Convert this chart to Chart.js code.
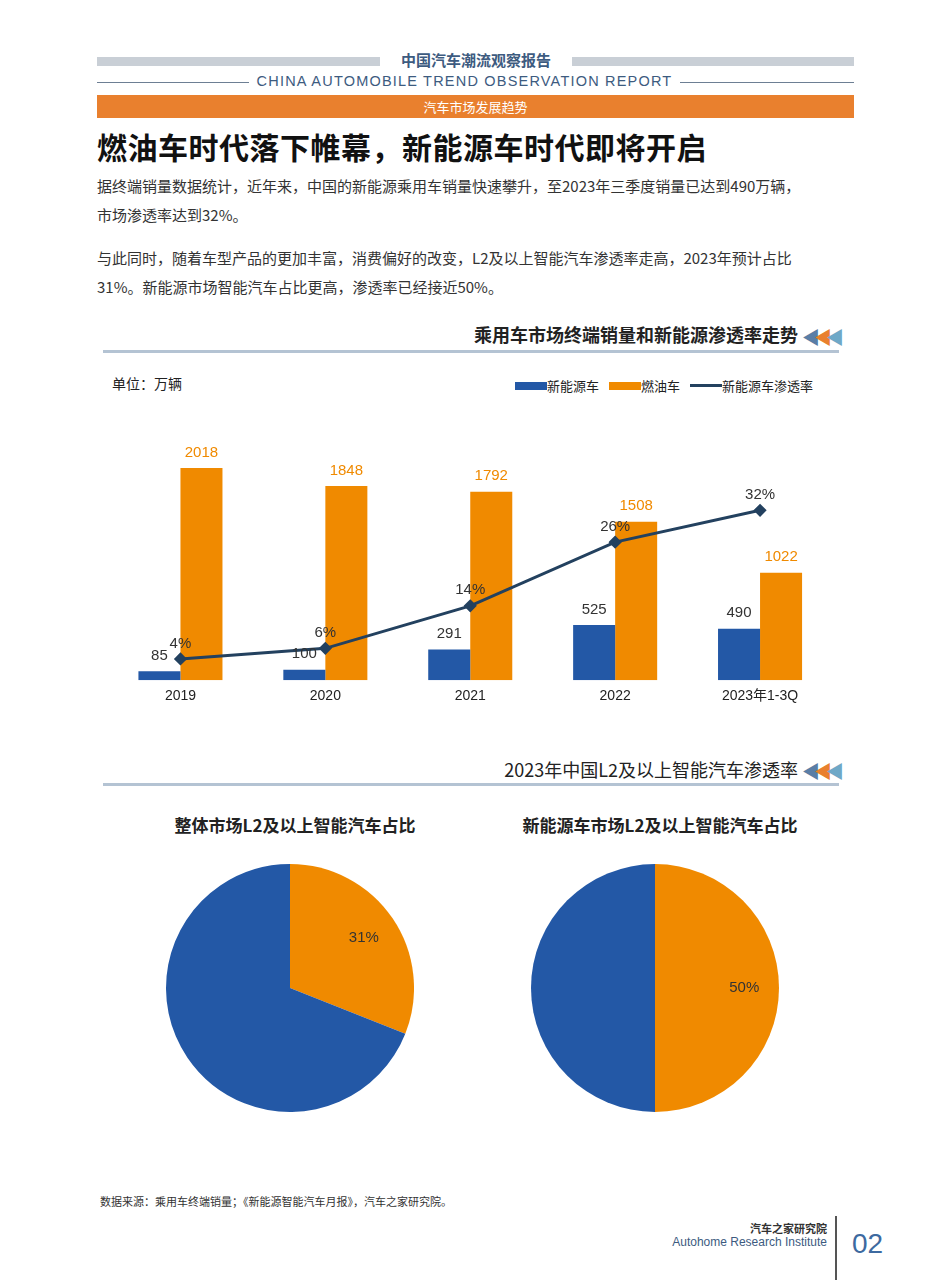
<!DOCTYPE html>
<html><head><meta charset="utf-8">
<script src="https://cdn.jsdelivr.net/npm/chart.js@4"></script>
<style>
body{margin:0;width:943px;height:1280px;position:relative;background:#fff;font-family:"Noto Sans CJK SC","Noto Sans",sans-serif;overflow:hidden}
.a{position:absolute}
</style></head><body>
<div class="a" style="left:97px;top:57px;width:283px;height:9px;background:#c9cfd6"></div>
<div class="a" style="left:572px;top:57px;width:282px;height:9px;background:#c9cfd6"></div>
<div class="a" style="left:380px;top:49px;width:192px;text-align:center;font-size:15px;font-weight:bold;color:#3d5b7f">中国汽车潮流观察报告</div>
<div class="a" style="left:97px;top:82px;width:152px;height:1px;background:#6d7f94"></div>
<div class="a" style="left:680px;top:82px;width:174px;height:1px;background:#6d7f94"></div>
<div class="a" style="left:249px;top:73px;width:431px;text-align:center;font-family:'Liberation Sans';font-size:14.5px;letter-spacing:1.2px;color:#3d5b7f">CHINA AUTOMOBILE TREND OBSERVATION REPORT</div>
<div class="a" style="left:97px;top:95px;width:757px;height:23px;background:#e9802e;color:#fff;font-size:13px;text-align:center;line-height:23px">汽车市场发展趋势</div>
<div class="a" style="left:97px;top:124px;font-size:30px;letter-spacing:0.5px;font-weight:bold;color:#111">燃油车时代落下帷幕，新能源车时代即将开启</div>
<div class="a" style="left:97px;top:171px;width:760px;font-size:15px;line-height:29px;color:#333">据终端销量数据统计，近年来，中国的新能源乘用车销量快速攀升，至2023年三季度销量已达到490万辆，<br>市场渗透率达到32%。</div>
<div class="a" style="left:97px;top:243px;width:760px;font-size:15px;line-height:29px;color:#333">与此同时，随着车型产品的更加丰富，消费偏好的改变，L2及以上智能汽车渗透率走高，2023年预计占比<br>31%。新能源市场智能汽车占比更高，渗透率已经接近50%。</div>

<div class="a" style="left:400px;top:321px;width:398px;text-align:right;font-size:18px;font-weight:bold;color:#222">乘用车市场终端销量和新能源渗透率走势</div>
<div class="a" style="left:802px;top:325px;font-size:18px;letter-spacing:-6px;line-height:22px"><span style="color:#5a7ea6">◀</span><span style="color:#e9802e">◀</span><span style="color:#6fa8c7">◀</span></div>
<div class="a" style="left:103px;top:350px;width:736px;height:3px;background:#b4c3d3"></div>
<div class="a" style="left:112px;top:373px;font-size:14px;color:#222">单位：万辆</div>
<div class="a" style="left:515px;top:376px;font-size:13px;color:#222;display:flex;align-items:center;white-space:nowrap">
<span style="width:32px;height:8px;background:#2358a6;display:inline-block"></span>新能源车
<span style="width:32px;height:8px;background:#f08a00;display:inline-block;margin-left:10px"></span>燃油车
<span style="width:32px;height:3px;background:#23415f;display:inline-block;margin-left:10px"></span>新能源车渗透率</div>

<div class="a" style="left:100px;top:400px;width:740px;height:305px"><canvas id="c1"></canvas></div>

<div class="a" style="left:400px;top:756px;width:398px;text-align:right;font-size:18px;color:#222">2023年中国L2及以上智能汽车渗透率</div>
<div class="a" style="left:802px;top:759px;font-size:18px;letter-spacing:-6px;line-height:22px"><span style="color:#5a7ea6">◀</span><span style="color:#e9802e">◀</span><span style="color:#6fa8c7">◀</span></div>
<div class="a" style="left:103px;top:783px;width:736px;height:3px;background:#b4c3d3"></div>
<div class="a" style="left:140px;top:812px;width:310px;text-align:center;font-size:17px;font-weight:bold;color:#222">整体市场L2及以上智能汽车占比</div>
<div class="a" style="left:495px;top:812px;width:330px;text-align:center;font-size:17px;font-weight:bold;color:#222">新能源车市场L2及以上智能汽车占比</div>
<div class="a" style="left:166px;top:864px;width:248px;height:248px"><canvas id="p1"></canvas></div>
<div class="a" style="left:531px;top:864px;width:248px;height:248px"><canvas id="p2"></canvas></div>

<div class="a" style="left:100px;top:1193px;font-size:11px;color:#333">数据来源：乘用车终端销量；《新能源智能汽车月报》，汽车之家研究院。</div>
<div class="a" style="left:600px;top:1220px;width:227px;text-align:right;font-size:11px;font-weight:bold;color:#333">汽车之家研究院</div>
<div class="a" style="left:600px;top:1235px;width:227px;text-align:right;font-family:'Liberation Sans';font-size:12px;color:#3d5b7f">Autohome Research Institute</div>
<div class="a" style="left:835px;top:1216px;width:2px;height:64px;background:#555"></div>
<div class="a" style="left:852px;top:1228px;font-family:'Liberation Sans';font-size:28px;color:#3d6aa0">02</div>

<script>
const categories=['2019','2020','2021','2022','2023年1-3Q'];
const nevSales=[85,100,291,525,490];
const iceSales=[2018,1848,1792,1508,1022];
const nevRate=[4,6,14,26,32];
const pieOverall=[31,69];
const pieNev=[50,50];
const BLUE='#2358a6',ORANGE='#f08a00',NAVY='#23415f';

const labels={id:'lbl',afterDatasetsDraw(ch){
 const c=ch.ctx;c.save();c.textAlign='center';c.textBaseline='bottom';
 c.font='15px "Liberation Sans",Arial';
 ch.data.datasets.forEach((ds,i)=>{
  ch.getDatasetMeta(i).data.forEach((el,j)=>{
   if(ds.type==='line'){c.fillStyle='#333';c.fillText(ds.data[j]+'%',el.x,el.y-8);}
   else{c.fillStyle=i===0?'#333':ORANGE;c.fillText(ds.data[j],el.x,el.y-8);}
  });
 });c.restore();}};

new Chart(document.getElementById('c1'),{
 data:{labels:categories,datasets:[
  {type:'bar',data:nevSales,backgroundColor:BLUE,order:2,yAxisID:'y',barPercentage:1,categoryPercentage:0.58},
  {type:'bar',data:iceSales,backgroundColor:ORANGE,order:2,yAxisID:'y',barPercentage:1,categoryPercentage:0.58},
  {type:'line',data:nevRate,borderColor:NAVY,backgroundColor:NAVY,borderWidth:3,pointStyle:'rectRot',pointRadius:4.5,order:1,yAxisID:'y2'}]},
 options:{animation:false,responsive:true,maintainAspectRatio:false,
  layout:{padding:{left:8,right:5,top:20}},
  plugins:{legend:{display:false},tooltip:{enabled:false}},
  scales:{
   x:{grid:{display:false},border:{display:false},ticks:{color:'#222',font:{size:14,family:'"Liberation Sans","Noto Sans CJK SC"'},padding:0}},
   y:{display:false,min:0,max:2475},
   y2:{display:false,min:0,max:49}}},
 plugins:[labels]});

const pieLbl=(txt,frac)=>({id:'pl',afterDraw(ch){const a=ch.getDatasetMeta(0).data[0];const c=ch.ctx;
 const ang=a.startAngle+(a.endAngle-a.startAngle)/2, r=a.outerRadius*frac;
 c.save();c.fillStyle='#333';c.font='15px "Liberation Sans",Arial';c.textAlign='center';c.textBaseline='middle';
 c.fillText(txt,a.x+Math.cos(ang)*r,a.y+Math.sin(ang)*r);c.restore();}});
function pie(id,d){new Chart(document.getElementById(id),{type:'pie',
 data:{labels:['L2及以上','其他'],datasets:[{data:d,backgroundColor:[ORANGE,BLUE],borderWidth:0}]},
 options:{animation:false,responsive:true,maintainAspectRatio:false,plugins:{legend:{display:false},tooltip:{enabled:false}}},
 plugins:[pieLbl(d[0]+'%',0.72)]});}
pie('p1',pieOverall);pie('p2',pieNev);
</script></body></html>
